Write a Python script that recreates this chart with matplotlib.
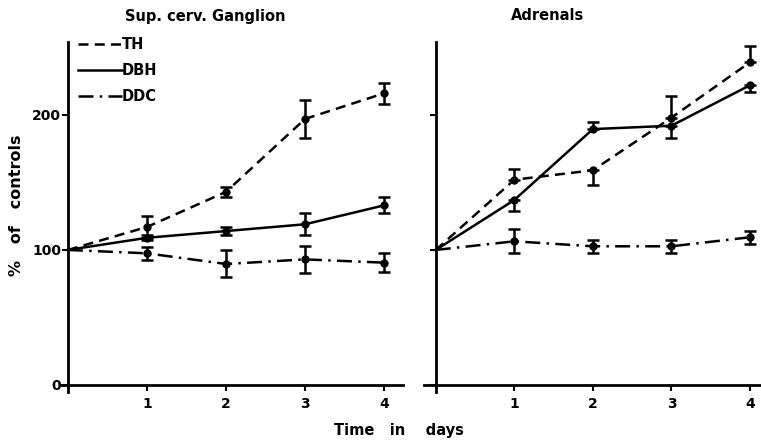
import matplotlib
matplotlib.use("Agg")
import matplotlib.pyplot as plt

days = [0, 1, 2, 3, 4]

# Sup. cerv. Ganglion (value, lower error, upper error)
scg_th = [100, 117, 143, 197, 216]
scg_th_lo = [0, 8, 3.5, 14, 8]
scg_th_hi = [0, 8, 3.5, 14, 8]
scg_dbh = [100, 109, 114, 119, 133]
scg_dbh_lo = [0, 2, 3, 8, 6]
scg_dbh_hi = [0, 2, 3, 8, 6]
scg_ddc = [100, 97.5, 89.6, 93, 90.6]
scg_ddc_lo = [0, 5, 10, 10, 7]
scg_ddc_hi = [0, 5, 10, 10, 7]

# Adrenals
adr_th = [100, 152, 159, 198, 239]
adr_th_lo = [0, 0, 11, 0, 0]
adr_th_hi = [0, 8, 0, 16, 12]
adr_dbh = [100, 137, 189.5, 192, 222]
adr_dbh_lo = [0, 8, 0, 9, 5]
adr_dbh_hi = [0, 0, 5, 0, 0]
adr_ddc = [100, 106.4, 102.7, 102.7, 109.4]
adr_ddc_lo = [0, 9, 5, 5, 5]
adr_ddc_hi = [0, 9, 5, 5, 5]

labels = ["TH", "DBH", "DDC"]
yticks = [0, 100, 200]
xticks = [1, 2, 3, 4]

plt.rcParams['font.family'] = ['DejaVu Sans']
plt.rcParams['font.weight'] = 'bold'

W, H = 761, 441
fig = plt.figure(figsize=(W / 100, H / 100), dpi=100)

def px_axes(left, right, top, bottom):
    return fig.add_axes([left / W, 1 - bottom / H, (right - left) / W, (bottom - top) / H])

ax1 = px_axes(60, 403, 42, 392)
ax2 = px_axes(424, 761, 42, 392)

styles = [dict(ls=(0, (4, 2.5))), dict(ls='-'), dict(ls=(0, (6, 2.5, 1, 2.5)))]

def draw(ax, series, los, his, xlim):
    for s, lo, hi, st, lab in zip(series, los, his, styles, labels):
        ax.errorbar(days[1:], s[1:], yerr=[lo[1:], hi[1:]], fmt='none', ecolor='black',
                    elinewidth=1.8, capsize=4, capthick=1.8)
        ax.plot(days, s, color='black', lw=1.8, marker='o', ms=5,
                markevery=[1, 2, 3, 4], label=lab, **st)
    ax.set_xlim(*xlim)
    ax.set_ylim(-5.2, 254)
    for sp in ['top', 'right']:
        ax.spines[sp].set_visible(False)
    ax.spines['left'].set_position(('data', 0))
    ax.spines['bottom'].set_position(('data', 0))
    ax.spines['left'].set_linewidth(2)
    ax.spines['bottom'].set_linewidth(2)
    ax.set_xticks(xticks)
    ax.set_xticklabels([str(t) for t in xticks], fontsize=10, fontweight='bold')
    ax.set_yticks(yticks)
    ax.tick_params(axis='both', direction='out', length=4, width=1.5, pad=5)
    ax.patch.set_visible(False)

draw(ax1, [scg_th, scg_dbh, scg_ddc], [scg_th_lo, scg_dbh_lo, scg_ddc_lo],
     [scg_th_hi, scg_dbh_hi, scg_ddc_hi], (-0.1, 4.24))
ax1.set_yticklabels([str(t) for t in yticks], fontsize=10, fontweight='bold')
ax1.tick_params(axis='y', pad=1)
draw(ax2, [adr_th, adr_dbh, adr_ddc], [adr_th_lo, adr_dbh_lo, adr_ddc_lo],
     [adr_th_hi, adr_dbh_hi, adr_ddc_hi], (-0.15, 4.14))
ax2.set_yticklabels([])

leg_handles = [plt.Line2D([], [], color='black', lw=1.8, **st) for st in styles]
ax1.legend(leg_handles, labels, loc='upper left', bbox_to_anchor=(0.035, 1.03),
           frameon=False, handlelength=3.0, handletextpad=0.0, labelspacing=0.75,
           prop=dict(size=10.5, weight='bold'), borderaxespad=0)

fig.text(205 / W, 1 - 16 / H, "Sup. cerv. Ganglion", ha='center', va='center',
         fontsize=10.5, fontweight='bold')
fig.text(548 / W, 1 - 16 / H, "Adrenals", ha='center', va='center',
         fontsize=10.5, fontweight='bold')
fig.text(399 / W, 1 - 430 / H, "Time   in    days", ha='center', va='center',
         fontsize=10.5, fontweight='bold')
fig.text(17 / W, 1 - 205 / H, "%   of   controls", ha='center', va='center',
         rotation=90, fontsize=11.5, fontweight='bold')

fig.savefig("out.png", dpi=100)
